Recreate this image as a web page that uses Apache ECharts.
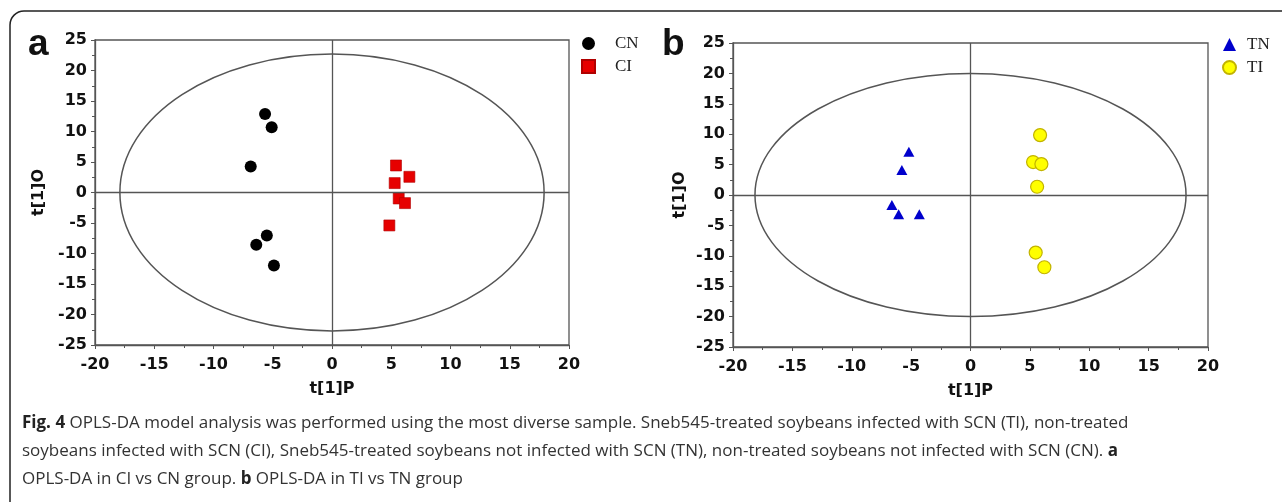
<!DOCTYPE html>
<html>
<head>
<meta charset="utf-8">
<script src="https://cdn.jsdelivr.net/npm/echarts@6/dist/echarts.min.js"></script>
<style>
  html, body { margin: 0; padding: 0; background: #fff; }
  #chart { width: 1282px; height: 502px; }
</style>
</head>
<body>
<div id="chart"></div>
<script>
// --- data ---
const xTicks = { min: -20, max: 20, step: 5 };
const yTicks = { min: -25, max: 25, step: 5 };

// panel a: CI vs CN
const cnX = [-5.65, -5.09, -6.86, -5.5, -6.39, -4.9];
const cnY = [12.85, 10.7, 4.26, -7.05, -8.57, -11.97];
const ciX = [5.4, 6.53, 5.29, 5.63, 6.16, 4.84];
const ciY = [4.43, 2.57, 1.54, -0.98, -1.74, -5.4];
const ellipseA = [17.9, 22.7]; // Hotelling T2 radii (t[1]P, t[1]O)

// panel b: TI vs TN
const tnX = [-5.19, -5.78, -6.62, -6.05, -4.31];
const tnY = [7.1, 4.1, -1.64, -3.17, -3.17];
const tiX = [5.86, 5.27, 5.97, 5.61, 5.49, 6.22];
const tiY = [9.85, 5.42, 5.09, 1.36, -9.47, -11.88];
const ellipseB = [18.15, 20.0];

const captionLines = [
  '{b|Fig. 4} OPLS-DA model analysis was performed using the most diverse sample. Sneb545-treated soybeans infected with SCN (TI), non-treated',
  'soybeans infected with SCN (CI), Sneb545-treated soybeans not infected with SCN (TN), non-treated soybeans not infected with SCN (CN). {b|a}',
  'OPLS-DA in CI vs CN group. {b|b} OPLS-DA in TI vs TN group'
];

const chart = echarts.init(document.getElementById('chart'));

const pair = (xs, ys) => xs.map((x, i) => [x, ys[i]]);
const lineCol = '#555';
const tickFont = { fontFamily: 'DejaVu Sans', fontWeight: 'bold', fontSize: 16, color: '#111' };

function xAxisFor(gridIndex) {
  return {
    gridIndex, type: 'value', min: xTicks.min, max: xTicks.max, interval: xTicks.step,
    name: 't[1]P', nameLocation: 'middle', nameGap: 36,
    nameTextStyle: { ...tickFont },
    axisLine: { show: true, onZero: false, lineStyle: { color: lineCol, width: 1.3 } },
    axisTick: { show: true, length: 4, lineStyle: { color: lineCol } },
    minorTick: { show: true, splitNumber: 2, length: 3, lineStyle: { color: lineCol } },
    axisLabel: { ...tickFont, margin: 12 },
    splitLine: { show: false }
  };
}
function yAxisFor(gridIndex, gap) {
  return {
    gridIndex, type: 'value', min: yTicks.min, max: yTicks.max, interval: yTicks.step,
    name: 't[1]O', nameLocation: 'middle', nameGap: gap,
    nameTextStyle: { ...tickFont },
    axisLine: { show: true, onZero: false, lineStyle: { color: lineCol, width: 1.3 } },
    axisTick: { show: true, length: 4, lineStyle: { color: lineCol } },
    minorTick: { show: true, splitNumber: 2, length: 3, lineStyle: { color: lineCol } },
    axisLabel: { ...tickFont, margin: 8 },
    splitLine: { show: false }
  };
}

// ellipse + zero cross-hair, drawn through the axis scales
function ellipseSeries(idx, radii) {
  return {
    type: 'custom', xAxisIndex: idx, yAxisIndex: idx, silent: true, clip: false, z: 1,
    data: [[0, 0, radii[0], radii[1]]],
    renderItem: function (params, api) {
      const c = api.coord([api.value(0), api.value(1)]);
      const s = api.size([api.value(2), api.value(3)]);
      return {
        type: 'ellipse',
        shape: { cx: c[0], cy: c[1], rx: s[0], ry: s[1] },
        style: { fill: 'none', stroke: lineCol, lineWidth: 1.5 }
      };
    },
    markLine: {
      silent: true, symbol: 'none', label: { show: false },
      lineStyle: { color: lineCol, width: 1.3, type: 'solid' },
      data: [{ xAxis: 0 }, { yAxis: 0 }]
    }
  };
}

const legendText = (padLeft) => ({ fontFamily: 'Liberation Serif', fontSize: 17, color: '#222', padding: [0, 0, 0, padLeft] });

chart.setOption({
  animation: false,
  backgroundColor: '#fff',
  grid: [
    { left: 95, top: 40, width: 474, height: 305, show: true, borderColor: lineCol, borderWidth: 1.3 },
    { left: 733, top: 43, width: 475, height: 304, show: true, borderColor: lineCol, borderWidth: 1.3 }
  ],
  xAxis: [xAxisFor(0), xAxisFor(1)],
  yAxis: [yAxisFor(0, 48), yAxisFor(1, 45)],
  legend: [
    { data: ['CN', 'CI'], orient: 'vertical', left: 576, top: 30, itemWidth: 13, itemHeight: 13, itemGap: 6,
      textStyle: legendText(15), selectedMode: false },
    { data: ['TN', 'TI'], orient: 'vertical', left: 1217, top: 31, itemWidth: 13, itemHeight: 13, itemGap: 6,
      textStyle: legendText(6), selectedMode: false }
  ],
  series: [
    ellipseSeries(0, ellipseA),
    ellipseSeries(1, ellipseB),
    { name: 'CN', type: 'scatter', xAxisIndex: 0, yAxisIndex: 0, symbol: 'circle', symbolSize: 12,
      itemStyle: { color: '#000', opacity: 1 }, data: pair(cnX, cnY), z: 3 },
    { name: 'CI', type: 'scatter', xAxisIndex: 0, yAxisIndex: 0, symbol: 'rect', symbolSize: 11,
      itemStyle: { color: '#e60000', borderColor: '#b00000', borderWidth: 0.6, opacity: 1 }, data: pair(ciX, ciY), z: 3 },
    { name: 'TN', type: 'scatter', xAxisIndex: 1, yAxisIndex: 1, symbol: 'triangle', symbolSize: [11, 10],
      itemStyle: { color: '#0000cc', opacity: 1 }, data: pair(tnX, tnY), z: 3 },
    { name: 'TI', type: 'scatter', xAxisIndex: 1, yAxisIndex: 1, symbol: 'circle', symbolSize: 13,
      itemStyle: { color: '#ffff00', borderColor: '#c2b300', borderWidth: 1.2, opacity: 1 }, data: pair(tiX, tiY), z: 3 }
  ],
  graphic: [
    { type: 'rect', z: 0, silent: true,
      shape: { x: 10, y: 11, width: 1320, height: 540, r: 14 },
      style: { fill: 'none', stroke: '#222', lineWidth: 1.5 } },
    { type: 'text', left: 28, top: 26, silent: true,
      style: { text: 'a', fontFamily: 'Liberation Sans', fontWeight: 'bold', fontSize: 37, fill: '#111' } },
    { type: 'text', left: 662, top: 26, silent: true,
      style: { text: 'b', fontFamily: 'Liberation Sans', fontWeight: 'bold', fontSize: 37, fill: '#111' } },
    ...captionLines.map((t, i) => ({
      type: 'text', x: 22, y: 423 + i * 28, silent: true,
      style: {
        text: t, fontFamily: 'Open Sans', fontSize: 17, fill: '#333', verticalAlign: 'middle',
        rich: { b: { fontFamily: 'Open Sans', fontWeight: 'bold', fontSize: 17, fill: '#222' } }
      }
    }))
  ]
});

window.addEventListener('resize', () => chart.resize());
</script>
</body>
</html>
